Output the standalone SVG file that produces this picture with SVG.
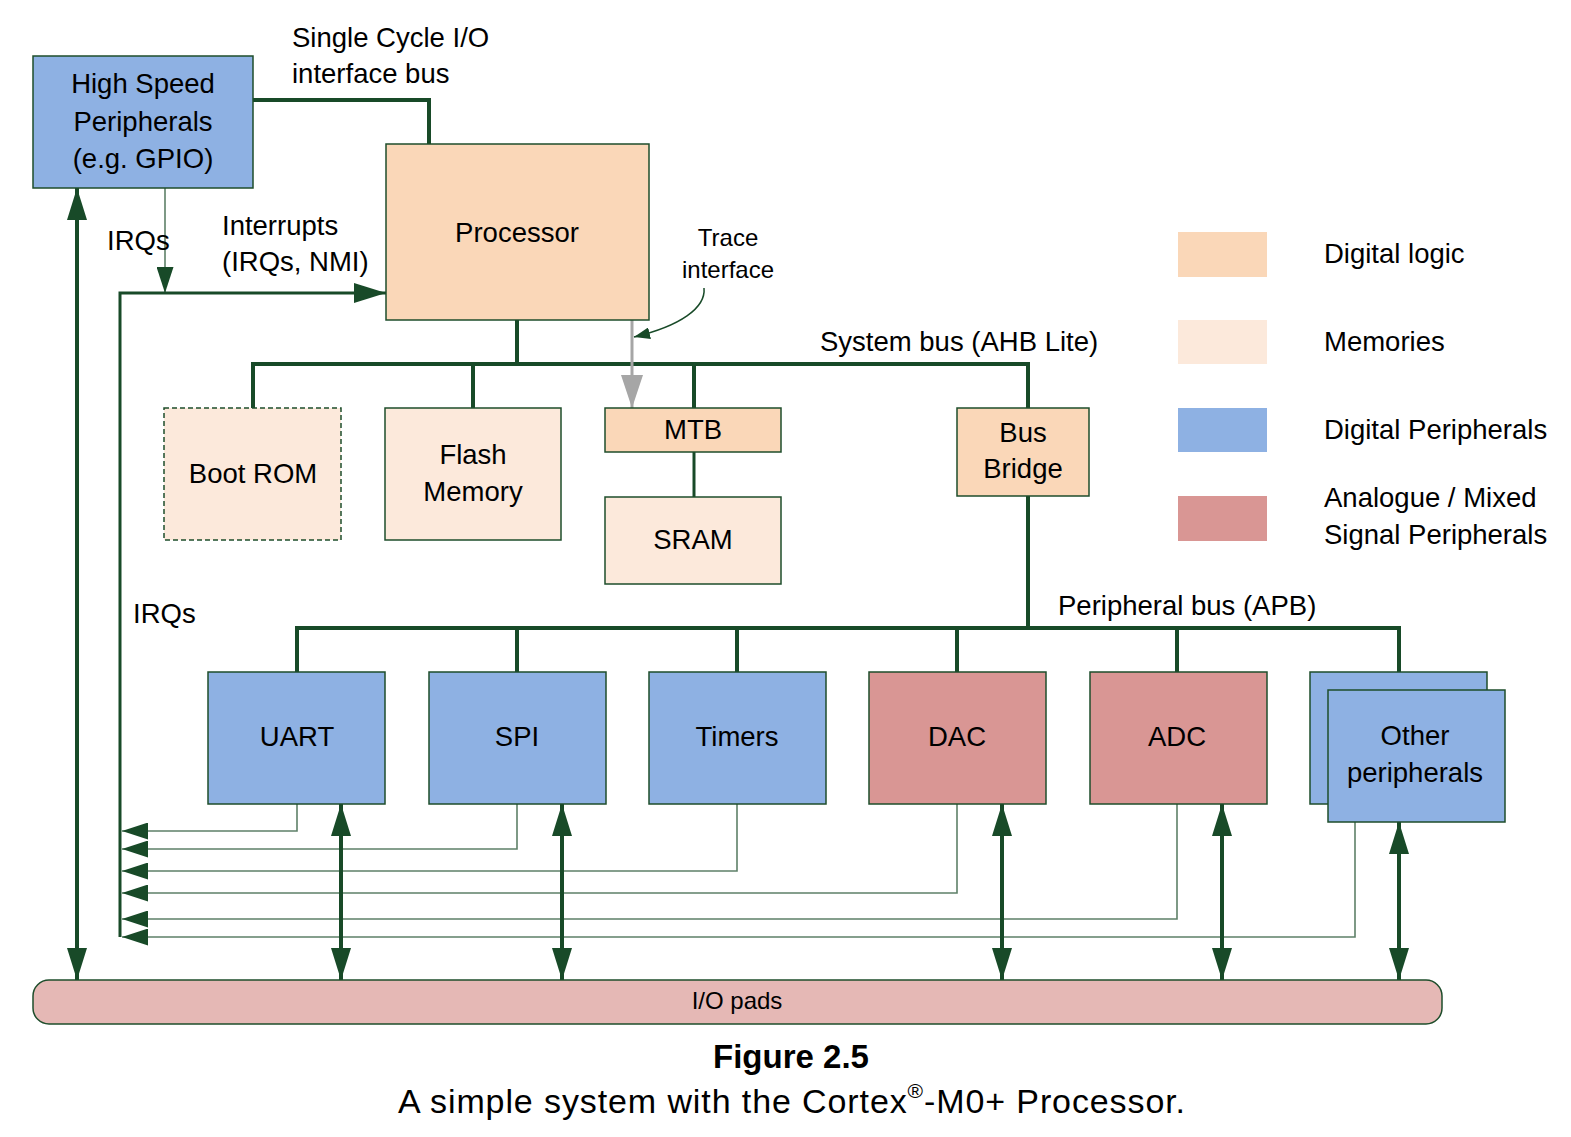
<svg xmlns="http://www.w3.org/2000/svg" width="1571" height="1137" viewBox="0 0 1571 1137">
<style>
text{font-family:"Liberation Sans",Arial,sans-serif;fill:#000;}
.t{font-size:27.5px;text-anchor:middle;}
.l{font-size:27.5px;}
.s{font-size:24px;}
.box{stroke:#1E4D2B;stroke-width:1.5;}
.dl{fill:#FAD7B8;}
.mem{fill:#FCE9DB;}
.dp{fill:#8EB1E3;}
.an{fill:#D99694;}
.bus{fill:none;stroke:#184A28;stroke-width:4;stroke-linecap:butt;}
.irq{fill:none;stroke:#5E8068;stroke-width:1.6;}
</style>
<defs>
<marker id="big" viewBox="0 -10 32 20" refX="32" refY="0" markerWidth="32" markerHeight="20" markerUnits="userSpaceOnUse" orient="auto-start-reverse"><path d="M0,-10 L32,0 L0,10 z" fill="#184A28"/></marker>
<marker id="small" viewBox="0 -8.5 26 17" refX="26" refY="0" markerWidth="26" markerHeight="17" markerUnits="userSpaceOnUse" orient="auto"><path d="M0,-8.5 L26,0 L0,8.5 z" fill="#184A28"/></marker>
<marker id="gray" viewBox="0 -11 33 22" refX="33" refY="0" markerWidth="33" markerHeight="22" markerUnits="userSpaceOnUse" orient="auto"><path d="M0,-11 L33,0 L0,11 z" fill="#A6A6A6"/></marker>
<marker id="tiny" viewBox="0 -6 16 12" refX="16" refY="0" markerWidth="16" markerHeight="12" markerUnits="userSpaceOnUse" orient="auto"><path d="M0,-6 L16,0 L0,6 z" fill="#184A28"/></marker>
</defs>
<rect width="1571" height="1137" fill="#fff"/>

<g id="connectors">
<polyline class="bus" points="253,100 429,100 429,144"/>
<line class="bus" x1="77" y1="188" x2="77" y2="980" marker-start="url(#big)" marker-end="url(#big)"/>
<line class="irq" x1="165" y1="188" x2="165" y2="293" marker-end="url(#small)"/>
<polyline class="bus" style="stroke-width:3" points="120,937 120,293 386,293" marker-end="url(#big)"/>
<path class="bus" d="M517,320 V364 M251,364 H1030 M253,364 V408 M473,364 V408 M694,364 V408 M1028,364 V408"/>
<line class="bus" style="stroke-width:3" x1="694" y1="452" x2="694" y2="497"/>
<line stroke="#A6A6A6" stroke-width="3" x1="632" y1="320" x2="632" y2="408" marker-end="url(#gray)"/>
<path fill="none" stroke="#184A28" stroke-width="1.5" d="M704,288 C706,308 680,326 634,337" marker-end="url(#tiny)"/>
<path class="bus" d="M1028,496 V628 M295,628 H1401 M297,628 V672 M517,628 V672 M737,628 V672 M957,628 V672 M1177,628 V672 M1399,628 V672"/>
<polyline class="irq" points="297,804 297,831 122,831" marker-end="url(#small)"/>
<polyline class="irq" points="517,804 517,849 122,849" marker-end="url(#small)"/>
<polyline class="irq" points="737,804 737,871 122,871" marker-end="url(#small)"/>
<polyline class="irq" points="957,804 957,893 122,893" marker-end="url(#small)"/>
<polyline class="irq" points="1177,804 1177,919 122,919" marker-end="url(#small)"/>
<polyline class="irq" points="1355,822 1355,937 122,937" marker-end="url(#small)"/>
<line class="bus" x1="341" y1="804" x2="341" y2="980" marker-start="url(#big)" marker-end="url(#big)"/>
<line class="bus" x1="562" y1="804" x2="562" y2="980" marker-start="url(#big)" marker-end="url(#big)"/>
<line class="bus" x1="1002" y1="804" x2="1002" y2="980" marker-start="url(#big)" marker-end="url(#big)"/>
<line class="bus" x1="1222" y1="804" x2="1222" y2="980" marker-start="url(#big)" marker-end="url(#big)"/>
<line class="bus" x1="1399" y1="822" x2="1399" y2="980" marker-start="url(#big)" marker-end="url(#big)"/>
</g>

<g id="hsp"><rect class="box dp" x="33" y="56" width="220" height="132"/>
<text class="t" x="143" y="93">High Speed</text><text class="t" x="143" y="131">Peripherals</text><text class="t" x="143" y="168">(e.g. GPIO)</text></g>
<g id="processor"><rect class="box dl" x="386" y="144" width="263" height="176"/><text class="t" x="517" y="242">Processor</text></g>
<g id="bootrom"><rect class="box mem" x="164" y="408" width="177" height="132" stroke-dasharray="5,3"/><text class="t" x="253" y="483">Boot ROM</text></g>
<g id="flash"><rect class="box mem" x="385" y="408" width="176" height="132"/><text class="t" x="473" y="464">Flash</text><text class="t" x="473" y="501">Memory</text></g>
<g id="mtb"><rect class="box dl" x="605" y="408" width="176" height="44"/><text class="t" x="693" y="439">MTB</text></g>
<g id="sram"><rect class="box mem" x="605" y="497" width="176" height="87"/><text class="t" x="693" y="549">SRAM</text></g>
<g id="busbridge"><rect class="box dl" x="957" y="408" width="132" height="88"/><text class="t" x="1023" y="442">Bus</text><text class="t" x="1023" y="478">Bridge</text></g>
<g id="uart"><rect class="box dp" x="208" y="672" width="177" height="132"/><text class="t" x="297" y="746">UART</text></g>
<g id="spi"><rect class="box dp" x="429" y="672" width="177" height="132"/><text class="t" x="517" y="746">SPI</text></g>
<g id="timers"><rect class="box dp" x="649" y="672" width="177" height="132"/><text class="t" x="737" y="746">Timers</text></g>
<g id="dac"><rect class="box an" x="869" y="672" width="177" height="132"/><text class="t" x="957" y="746">DAC</text></g>
<g id="adc"><rect class="box an" x="1090" y="672" width="177" height="132"/><text class="t" x="1177" y="746">ADC</text></g>
<g id="other"><rect class="box dp" x="1310" y="672" width="177" height="132"/><rect class="box dp" x="1328" y="690" width="177" height="132"/>
<text class="t" x="1415" y="745">Other</text><text class="t" x="1415" y="782">peripherals</text></g>
<g id="iopads"><rect class="box" fill="#E5B8B5" x="33" y="980" width="1409" height="44" rx="16"/><text class="s" x="737" y="1009" text-anchor="middle">I/O pads</text></g>

<g id="labels">
<text class="l" x="292" y="47">Single Cycle I/O</text>
<text class="l" x="292" y="83">interface bus</text>
<text class="l" x="107" y="250">IRQs</text>
<text class="l" x="222" y="235">Interrupts</text>
<text class="l" x="222" y="271">(IRQs, NMI)</text>
<text class="s" x="728" y="246" text-anchor="middle">Trace</text>
<text class="s" x="728" y="278" text-anchor="middle">interface</text>
<text class="l" x="820" y="351">System bus (AHB Lite)</text>
<text class="l" x="133" y="623">IRQs</text>
<text class="l" x="1058" y="615">Peripheral bus (APB)</text>
</g>

<g id="legend">
<rect x="1178" y="232" width="89" height="45" fill="#FAD7B8"/>
<rect x="1178" y="320" width="89" height="44" fill="#FCE9DB"/>
<rect x="1178" y="408" width="89" height="44" fill="#8EB1E3"/>
<rect x="1178" y="496" width="89" height="45" fill="#D99694"/>
<text class="l" x="1324" y="263">Digital logic</text>
<text class="l" x="1324" y="351">Memories</text>
<text class="l" x="1324" y="439">Digital Peripherals</text>
<text class="l" x="1324" y="507">Analogue / Mixed</text>
<text class="l" x="1324" y="544">Signal Peripherals</text>
</g>

<g id="caption">
<text x="791" y="1068" text-anchor="middle" font-size="33" font-weight="bold">Figure 2.5</text>
<text x="398" y="1113" font-size="34" textLength="787" lengthAdjust="spacing">A simple system with the Cortex<tspan font-size="21" dy="-15">®</tspan><tspan dy="15">-M0+ Processor.</tspan></text>
</g>
</svg>
